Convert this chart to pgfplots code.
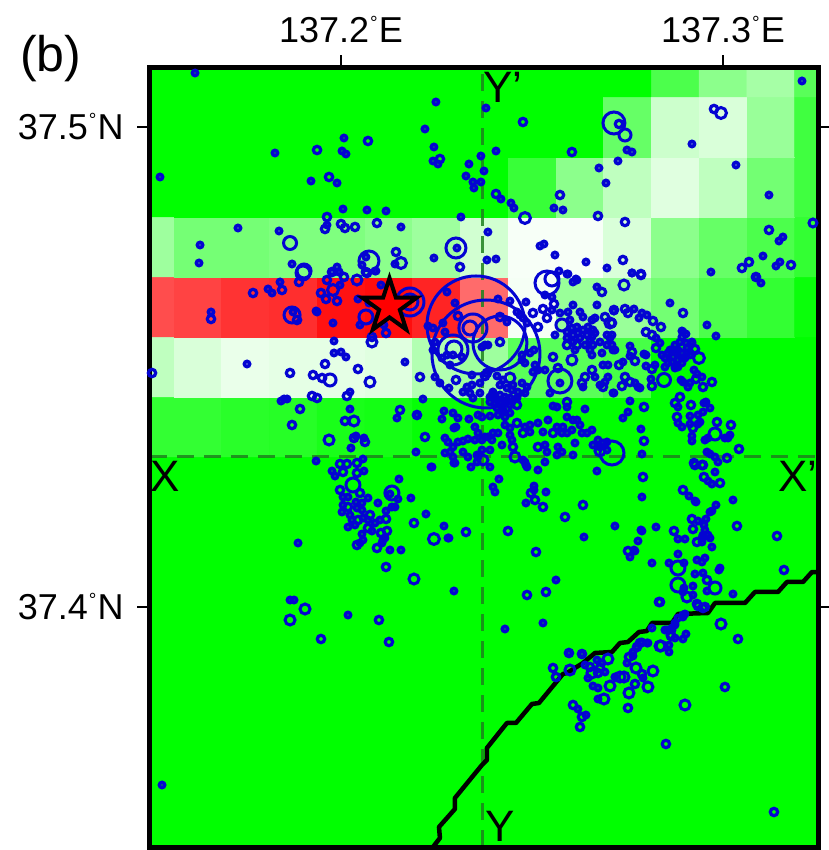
\documentclass[border=0pt]{standalone}
\usepackage{fontspec}
\setmainfont{Liberation Sans}
\usepackage{pgfplots}
\usepackage{pgfplotstable}
\pgfplotsset{compat=1.18}
\definecolor{evblue}{RGB}{4,4,210}
\definecolor{dashgreen}{RGB}{30,130,30}
\newcommand\dg{\kern1pt\raisebox{13pt}{\fontsize{19}{19}\selectfont\char"00B0}\kern1pt}
\pgfdeclareplotmark{gmtstar}{%
  \pgfpathmoveto{\pgfqpointpolar{90}{\pgfplotmarksize}}%
  \pgfpathlineto{\pgfqpointpolar{126}{0.382\pgfplotmarksize}}%
  \pgfpathlineto{\pgfqpointpolar{162}{\pgfplotmarksize}}%
  \pgfpathlineto{\pgfqpointpolar{198}{0.382\pgfplotmarksize}}%
  \pgfpathlineto{\pgfqpointpolar{234}{\pgfplotmarksize}}%
  \pgfpathlineto{\pgfqpointpolar{270}{0.382\pgfplotmarksize}}%
  \pgfpathlineto{\pgfqpointpolar{306}{\pgfplotmarksize}}%
  \pgfpathlineto{\pgfqpointpolar{342}{0.382\pgfplotmarksize}}%
  \pgfpathlineto{\pgfqpointpolar{18}{\pgfplotmarksize}}%
  \pgfpathlineto{\pgfqpointpolar{54}{0.382\pgfplotmarksize}}%
  \pgfpathclose
  \pgfusepathqfillstroke
}
% heat grid: v=0 green, v=1 white, v=2 red
\pgfplotstableread[row sep=crcr]{
lon lat v\\
137.1500 37.4375 .20\\ 137.1625 37.4375 .20\\ 137.1750 37.4375 .16\\ 137.1875 37.4375 .15\\ 137.2000 37.4375 .10\\ 137.2125 37.4375 .08\\ 137.2250 37.4375 .02\\ 137.2375 37.4375 0\\ 137.2500 37.4375 0\\ 137.2625 37.4375 0\\ 137.2750 37.4375 0\\ 137.2875 37.4375 0\\ 137.3000 37.4375 0\\ 137.3125 37.4375 0\\ 137.3250 37.4375 0\\
137.1500 37.4500 .75\\ 137.1625 37.4500 .85\\ 137.1750 37.4500 .92\\ 137.1875 37.4500 .90\\ 137.2000 37.4500 .90\\ 137.2125 37.4500 .88\\ 137.2250 37.4500 .70\\ 137.2375 37.4500 .62\\ 137.2500 37.4500 .35\\ 137.2625 37.4500 .35\\ 137.2750 37.4500 .28\\ 137.2875 37.4500 0\\ 137.3000 37.4500 0\\ 137.3125 37.4500 0\\ 137.3250 37.4500 0\\
137.1500 37.4625 1.70\\ 137.1625 37.4625 1.74\\ 137.1750 37.4625 1.80\\ 137.1875 37.4625 1.82\\ 137.2000 37.4625 1.93\\ 137.2125 37.4625 1.95\\ 137.2250 37.4625 1.86\\ 137.2375 37.4625 1.58\\ 137.2500 37.4625 .96\\ 137.2625 37.4625 .60\\ 137.2750 37.4625 .60\\ 137.2875 37.4625 .45\\ 137.3000 37.4625 .30\\ 137.3125 37.4625 .20\\ 137.3250 37.4625 .04\\
137.1500 37.4750 .62\\ 137.1625 37.4750 .46\\ 137.1750 37.4750 .46\\ 137.1875 37.4750 .50\\ 137.2000 37.4750 .50\\ 137.2125 37.4750 .55\\ 137.2250 37.4750 .62\\ 137.2375 37.4750 .82\\ 137.2500 37.4750 .97\\ 137.2625 37.4750 .97\\ 137.2750 37.4750 .85\\ 137.2875 37.4750 .55\\ 137.3000 37.4750 .40\\ 137.3125 37.4750 .30\\ 137.3250 37.4750 .20\\
137.1500 37.4875 0\\ 137.1625 37.4875 0\\ 137.1750 37.4875 0\\ 137.1875 37.4875 0\\ 137.2000 37.4875 0\\ 137.2125 37.4875 0\\ 137.2250 37.4875 0\\ 137.2375 37.4875 0\\ 137.2500 37.4875 .22\\ 137.2625 37.4875 .55\\ 137.2750 37.4875 .75\\ 137.2875 37.4875 .88\\ 137.3000 37.4875 .75\\ 137.3125 37.4875 .45\\ 137.3250 37.4875 .25\\
137.1500 37.5000 0\\ 137.1625 37.5000 0\\ 137.1750 37.5000 0\\ 137.1875 37.5000 0\\ 137.2000 37.5000 0\\ 137.2125 37.5000 0\\ 137.2250 37.5000 0\\ 137.2375 37.5000 0\\ 137.2500 37.5000 0\\ 137.2625 37.5000 0\\ 137.2750 37.5000 .40\\ 137.2875 37.5000 .80\\ 137.3000 37.5000 .85\\ 137.3125 37.5000 .60\\ 137.3250 37.5000 .25\\
137.1500 37.5125 0\\ 137.1625 37.5125 0\\ 137.1750 37.5125 0\\ 137.1875 37.5125 0\\ 137.2000 37.5125 0\\ 137.2125 37.5125 0\\ 137.2250 37.5125 0\\ 137.2375 37.5125 0\\ 137.2500 37.5125 0\\ 137.2625 37.5125 0\\ 137.2750 37.5125 0\\ 137.2875 37.5125 .30\\ 137.3000 37.5125 .55\\ 137.3125 37.5125 .65\\ 137.3250 37.5125 .35\\
}\heat
% events, read as image position of the map (converted to degrees on plotting)
\pgfplotstableread[row sep=crcr]{
px py\\
195 73\\ 160 177\\ 275 153\\ 311 181\\ 337 183\\ 344 138\\ 342 151\\ 346 154\\ 343 209\\ 367 210\\ 386 211\\ 238 228\\ 279 231\\ 200 245\\ 199 263\\ 327 225\\ 401 227\\ 292 264\\ 366 257\\ 362 265\\ 395 264\\ 376 271\\ 337 267\\ 339 272\\
436 102\\ 486 108\\ 425 129\\ 434 147\\ 433 161\\ 438 164\\ 496 151\\ 481 156\\ 469 164\\ 484 171\\ 466 176\\ 473 182\\ 481 182\\ 474 188\\ 501 199\\ 511 203\\ 514 208\\ 461 217\\ 488 232\\ 554 208\\ 563 210\\ 627 150\\ 632 152\\ 618 161\\ 599 168\\ 606 183\\ 692 144\\ 736 165\\ 802 81\\ 769 195\\ 783 237\\ 779 241\\ 763 256\\ 780 262\\ 776 266\\ 711 272\\ 756 277\\ 540 246\\ 544 244\\ 555 255\\ 586 262\\ 607 268\\ 632 273\\ 559 271\\ 568 274\\ 576 279\\ 487 260\\ 496 259\\ 434 258\\ 457 248\\
268 289\\ 272 293\\ 280 282\\ 211 312\\ 293 312\\ 316 311\\ 317 312\\ 340 285\\ 332 272\\ 339 272\\ 375 271\\ 381 285\\ 358 299\\ 369 303\\ 360 325\\ 333 323\\ 384 325\\ 334 341\\ 334 353\\ 341 352\\ 346 357\\ 405 362\\ 247 364\\ 350 392\\ 287 399\\ 284 399\\ 281 401\\ 350 409\\ 356 436\\ 364 438\\ 351 448\\ 397 418\\ 416 452\\ 316 461\\
363 459\\ 332 471\\ 335 476\\ 364 471\\ 343 497\\ 348 497\\ 368 498\\ 343 505\\ 356 502\\ 362 503\\ 357 508\\ 362 510\\ 342 512\\ 350 515\\ 352 520\\ 355 525\\ 348 527\\ 363 518\\ 368 520\\ 378 503\\ 386 511\\ 395 507\\ 392 507\\ 399 479\\ 390 494\\ 398 499\\ 411 498\\ 380 520\\ 375 523\\ 372 531\\ 362 534\\ 363 540\\ 360 543\\ 383 540\\ 385 538\\ 382 543\\ 390 550\\ 401 550\\ 426 514\\ 444 526\\ 448 538\\ 449 538\\ 454 591\\ 298 543\\ 290 600\\ 294 600\\ 348 615\\
431 467\\ 454 463\\ 471 467\\ 499 479\\ 493 487\\ 495 492\\ 538 470\\ 526 465\\ 523 460\\ 534 486\\ 534 490\\ 546 492\\ 526 503\\ 556 580\\ 505 629\\ 543 623\\
597 471\\ 642 497\\ 615 526\\ 584 537\\ 641 530\\ 642 531\\ 656 527\\ 638 541\\ 634 550\\ 635 551\\ 630 557\\ 652 563\\ 678 539\\ 685 539\\ 678 554\\ 669 563\\ 684 563\\ 715 472\\ 708 481\\ 712 484\\ 689 496\\ 695 501\\ 696 502\\ 716 505\\ 710 512\\ 712 511\\ 733 500\\ 698 521\\ 706 519\\ 704 525\\ 705 530\\ 703 535\\ 708 535\\ 702 538\\ 710 538\\ 702 542\\ 712 547\\ 697 560\\ 705 558\\ 702 562\\ 719 570\\ 720 568\\ 695 574\\ 703 573\\ 707 591\\ 733 594\\ 684 588\\ 693 586\\ 693 595\\ 683 592\\ 683 615\\ 685 614\\ 678 618\\ 675 625\\ 652 628\\ 665 630\\ 672 628\\ 686 634\\ 683 639\\ 675 638\\ 669 652\\ 569 653\\ 582 654\\ 647 643\\ 637 647\\ 633 652\\
585 665\\ 597 660\\ 602 663\\ 588 678\\ 605 672\\ 593 686\\ 598 688\\ 598 699\\ 578 709\\ 586 715\\ 615 677\\ 643 678\\ 627 663\\ 633 656\\ 642 642\\ 648 643\\ 669 645\\ 667 630\\ 672 630\\ 675 623\\ 683 617\\ 162 785\\
447 292\\ 455 303\\ 428 326\\ 433 328\\ 443 323\\ 445 332\\ 435 342\\ 433 350\\ 447 355\\ 453 355\\ 462 357\\ 442 358\\ 450 365\\ 435 377\\ 440 383\\ 449 388\\ 423 399\\ 417 415\\ 444 411\\ 453 413\\ 442 419\\ 458 418\\ 454 428\\ 456 427\\ 469 419\\ 475 427\\ 445 438\\ 448 442\\ 458 442\\ 463 441\\ 468 439\\ 453 447\\ 445 453\\ 450 452\\ 453 457\\ 455 463\\ 432 467\\ 477 455\\ 482 450\\
472 385\\ 467 387\\ 463 392\\ 470 393\\ 473 398\\ 480 393\\ 480 383\\ 472 375\\ 497 376\\ 503 380\\ 513 385\\ 522 383\\ 527 387\\ 525 393\\ 518 392\\ 512 390\\ 507 388\\ 500 385\\ 493 392\\ 490 397\\ 495 398\\ 500 395\\ 505 397\\ 510 398\\ 517 398\\ 490 402\\ 495 403\\ 500 402\\ 505 403\\ 510 405\\ 497 408\\ 503 410\\ 510 413\\ 498 415\\ 505 417\\ 482 417\\ 478 415\\ 490 416\\ 492 395\\ 497 400\\ 507 400\\ 502 407\\ 512 402\\
505 425\\ 510 428\\ 525 427\\ 530 425\\ 538 423\\ 530 432\\ 510 435\\ 512 440\\ 502 445\\ 498 433\\ 493 433\\ 488 437\\ 492 440\\ 485 437\\ 478 433\\ 482 440\\ 475 440\\ 490 450\\ 463 452\\ 468 457\\ 478 457\\ 477 462\\ 490 467\\ 525 462\\ 527 467\\ 545 462\\
548 420\\ 543 432\\ 545 445\\ 547 452\\ 558 447\\ 557 427\\ 563 427\\ 567 417\\ 567 407\\ 553 406\\ 557 407\\ 550 393\\ 585 409\\ 573 420\\ 562 433\\ 567 433\\ 572 430\\ 577 420\\ 580 425\\ 582 433\\ 587 433\\ 592 430\\ 598 440\\ 600 447\\ 603 443\\ 607 450\\ 593 445\\ 573 455\\ 562 452\\ 557 455\\ 575 443\\ 607 442\\
534 350\\ 530 353\\ 522 355\\ 522 360\\ 525 363\\ 535 365\\ 533 372\\ 545 370\\ 538 370\\ 560 383\\ 595 377\\ 603 365\\ 608 365\\ 605 382\\ 613 393\\ 583 387\\ 600 385\\ 608 377\\
597 287\\ 573 282\\ 577 280\\ 567 274\\ 545 295\\ 552 297\\ 552 310\\ 526 302\\ 510 301\\ 498 299\\ 517 312\\ 520 315\\ 523 318\\ 527 323\\ 507 322\\ 485 345\\ 482 347\\ 488 345\\ 555 335\\ 560 313\\ 568 312\\ 573 305\\ 580 312\\ 570 320\\ 583 317\\ 592 320\\ 595 318\\ 597 305\\
567 332\\ 572 328\\ 577 327\\ 567 338\\ 573 335\\ 578 333\\ 573 342\\ 580 338\\ 583 330\\ 588 327\\ 593 330\\ 587 335\\ 592 337\\ 595 333\\ 590 350\\ 593 345\\ 592 355\\ 600 342\\ 607 335\\ 610 338\\ 607 345\\ 613 350\\ 602 353\\ 590 340\\ 585 345\\ 575 350\\
632 273\\ 761 283\\ 670 303\\ 707 325\\ 716 336\\ 614 311\\ 634 309\\ 642 313\\ 639 318\\ 647 315\\ 656 338\\ 660 343\\ 630 346\\ 630 356\\ 615 350\\ 612 335\\ 612 345\\ 644 354\\ 646 355\\ 646 366\\ 655 365\\ 623 362\\ 635 383\\ 638 387\\ 640 388\\ 614 393\\ 651 379\\ 630 401\\ 628 412\\ 623 418\\ 641 429\\ 642 454\\
665 358\\ 670 350\\ 675 345\\ 680 342\\ 687 348\\ 692 343\\ 682 353\\ 673 357\\ 678 360\\ 685 358\\ 690 355\\ 668 363\\ 665 367\\ 678 367\\ 682 363\\ 687 353\\ 672 362\\ 662 355\\ 677 352\\ 675 368\\ 682 358\\ 678 350\\ 672 350\\ 668 353\\ 686 343\\ 682 331\\ 683 332\\ 686 334\\ 682 337\\ 692 342\\
694 370\\ 697 374\\ 702 377\\ 683 382\\ 681 380\\ 688 387\\ 690 383\\ 678 407\\ 704 403\\ 706 402\\ 710 408\\ 678 423\\ 682 427\\ 690 416\\ 690 424\\ 698 424\\ 700 422\\ 698 415\\ 703 412\\ 692 436\\ 692 441\\ 705 440\\ 708 438\\ 725 438\\ 730 435\\ 728 438\\ 707 452\\ 710 454\\ 715 457\\ 718 462\\
}\evS
\pgfplotstableread[row sep=crcr]{
px py\\
317 150\\ 368 141\\ 329 177\\ 327 217\\ 325 229\\ 341 224\\ 345 228\\ 355 227\\ 377 223\\ 396 252\\ 366 272\\ 332 272\\
523 122\\ 440 159\\ 496 194\\ 572 152\\ 560 195\\ 598 216\\ 625 222\\ 619 124\\ 714 109\\ 769 230\\ 749 262\\ 742 268\\ 791 265\\ 623 260\\ 641 274\\ 460 267\\
253 293\\ 282 290\\ 299 282\\ 211 319\\ 297 320\\ 321 293\\ 327 280\\ 326 299\\ 337 301\\ 344 277\\ 367 273\\ 386 333\\ 372 337\\ 325 364\\ 358 369\\ 152 373\\ 290 373\\ 313 375\\ 322 378\\ 420 377\\ 347 396\\ 312 396\\ 317 398\\ 300 409\\ 292 425\\ 345 421\\ 354 438\\ 365 442\\ 400 410\\ 417 415\\
340 464\\ 347 464\\ 357 463\\ 343 472\\ 357 473\\ 340 490\\ 360 493\\ 348 507\\ 358 520\\ 370 515\\ 386 519\\ 368 528\\ 381 533\\ 387 531\\ 357 545\\ 377 548\\ 414 523\\ 466 532\\ 386 567\\ 379 620\\ 321 639\\ 389 642\\ 508 531\\ 536 552\\ 531 493\\ 535 500\\ 543 507\\ 546 592\\ 527 595\\
643 477\\ 583 505\\ 565 517\\ 628 551\\ 674 531\\ 694 463\\ 702 465\\ 704 477\\ 720 483\\ 683 490\\ 692 519\\ 693 529\\ 697 542\\ 737 526\\ 777 536\\ 707 580\\ 784 570\\ 660 602\\ 697 604\\ 703 608\\ 671 636\\ 640 643\\ 738 639\\
569 653\\ 582 654\\ 553 668\\ 556 677\\ 590 667\\ 600 668\\ 598 673\\ 635 684\\ 573 705\\ 582 717\\ 580 727\\ 628 708\\ 666 744\\ 725 687\\ 774 812\\ 642 674\\ 629 657\\ 637 647\\ 671 635\\ 698 606\\ 705 607\\ 659 602\\
458 316\\ 456 380\\ 425 437\\ 485 376\\ 487 373\\ 517 405\\ 517 423\\ 523 433\\ 513 447\\ 553 433\\ 538 447\\ 567 402\\ 553 357\\ 558 368\\ 582 383\\ 585 377\\ 592 370\\ 603 387\\
602 292\\ 554 304\\ 543 309\\ 547 318\\ 533 313\\ 538 327\\ 500 317\\ 500 342\\ 605 317\\ 614 310\\ 567 345\\ 577 345\\
641 275\\ 756 277\\ 683 313\\ 625 309\\ 628 313\\ 653 321\\ 661 327\\ 612 323\\ 646 332\\ 652 335\\ 656 348\\ 632 352\\ 635 361\\ 652 369\\ 619 365\\ 625 377\\ 630 382\\ 622 386\\ 652 386\\ 644 407\\ 644 441\\ 695 349\\ 696 379\\ 712 382\\ 703 387\\ 680 397\\ 675 403\\ 691 405\\ 677 417\\ 693 428\\ 717 422\\ 731 425\\ 739 449\\ 727 458\\ 695 465\\ 703 465\\
}\evM
\pgfplotstableread[row sep=crcr]{
px py r\\
290 243 6.5\\ 304 271 7\\ 369 261 10\\ 401 263 5.5\\ 525 218 5.5\\ 614 123 11\\ 625 135 6\\ 721 113 5.5\\ 456 248 10\\ 813 223 4\\ 547 283 12\\ 552 279 7\\
303 273 7\\ 292 315 8\\ 333 290 5.5\\ 357 280 5\\ 366 317 7\\ 372 342 5\\ 330 380 6\\ 370 382 5\\ 354 421 5\\ 329 440 5\\ 353 485 7\\ 392 493 7\\ 434 539 5.5\\ 414 579 5\\ 305 609 5\\ 290 620 5\\
678 568 7\\ 715 588 6\\ 678 585 7\\ 687 597 5\\ 721 624 5\\ 660 646 5\\ 608 659 5\\ 570 670 5\\ 592 673 5\\ 610 686 5\\ 604 699 5\\ 620 677 5\\ 624 677 5\\ 629 693 5\\ 648 687 5\\ 685 705 5\\ 636 668 5\\ 653 671 5\\ 661 646 5\\
510 378 5\\ 515 457 5\\ 483 460 5\\ 572 360 5\\ 562 325 6\\ 610 323 5\\ 699 358 5.5\\ 664 380 6.5\\ 624 285 5\\ 715 434 6\\ 600 451 5\\
410 302 14\\ 410 302 8\\ 476 325 49\\ 486 354 54\\ 500 343 27\\ 473 328 14\\ 470 328 7\\ 453 350 15\\ 454 349 8\\ 560 381 12\\ 612 453 12\\
}\evL
\begin{document}
\begin{tikzpicture}[x=1pt,y=1pt]
\path[use as bounding box] (-150,-3) rectangle (678,847);
\begin{axis}[
  anchor=south west, at={(0,0)},
  scale only axis, width=668pt, height=779pt,
  xmin=137.15, xmax=137.32487, ymin=37.35, ymax=37.51229,
  axis background/.style={fill={rgb,255:red,0;green,255;blue,0}},
  axis line style={line width=5pt, line cap=rect},
  axis on top,
  tick align=outside, major tick length=13pt,
  tick style={line width=2pt, black},
  xtick={137.2,137.3}, ytick={37.4,37.5},
  xticklabel pos=upper, yticklabel pos=left,
  xticklabels={137.2\dg E,137.3\dg E},
  yticklabels={37.4\dg N,37.5\dg N},
  tick label style={font=\fontsize{36}{36}\selectfont},
  xticklabel style={yshift=9pt},
  yticklabel style={xshift=-10pt},
  colormap={gwr}{rgb255(0cm)=(0,255,0); rgb255(1cm)=(255,255,255); rgb255(2cm)=(255,0,0)},
  point meta min=0, point meta max=2,
]
\addplot[matrix plot*, mesh/cols=15, mesh/rows=7, point meta=\thisrow{v}] table[x=lon,y=lat] {\heat};

\addplot[only marks, mark=o, mark size=2.6, mark options={line width=3.6pt, draw=evblue}]
  table[x expr=137.2+(\thisrow{px}-341)/3820, y expr=37.4-(\thisrow{py}-607)/4800] {\evS};
\addplot[only marks, mark=o, mark size=3.7, mark options={line width=3.2pt, draw=evblue}]
  table[x expr=137.2+(\thisrow{px}-341)/3820, y expr=37.4-(\thisrow{py}-607)/4800] {\evM};
\addplot[scatter, only marks, mark=o, mark options={line width=3pt, draw=evblue},
  visualization depends on={\thisrow{r} \as \myr},
  scatter/@pre marker code/.code={\pgfplotsset{mark size=\myr}\pgfinterruptboundingbox\endpgfinterruptboundingbox},
  scatter/@post marker code/.code={}]
  table[x expr=137.2+(\thisrow{px}-341)/3820, y expr=37.4-(\thisrow{py}-607)/4800] {\evL};

% profile lines
\addplot[dashgreen, line width=3pt, dash pattern=on 17pt off 10pt, opacity=.85] coordinates {(137.15,37.43125) (137.32487,37.43125)};
\addplot[dashgreen, line width=3pt, dash pattern=on 17pt off 10pt, opacity=.85] coordinates {(137.23717,37.35) (137.23717,37.51229)};

% coastline
\addplot[black, line width=4.5pt, line join=round] table[x expr=137.2+(\thisrow{px}-341)/3820, y expr=37.4-(\thisrow{py}-607)/4800, row sep=crcr] {
px py\\
433 847\\ 440 838\\ 439 827\\ 455 809\\ 455 798\\ 482 765\\ 487 760\\ 487 748\\ 507 723\\ 516 723\\ 532 704\\ 539 703\\ 563 674\\ 567 673\\ 583 663\\ 595 653\\ 612 652\\ 620 643\\ 628 642\\ 639 632\\ 647 631\\ 652 623\\ 672 623\\ 678 614\\ 708 613\\ 715 603\\ 745 603\\ 755 592\\ 778 592\\ 787 582\\ 803 582\\ 812 572\\ 818 572\\
};

% epicentre
\addplot[only marks, mark=gmtstar, mark size=28.5, mark options={fill=red, draw=black, line width=4pt, miter limit=10}]
  coordinates {(137.2127,37.4626)};

\node[anchor=base west, inner sep=0pt, font=\fontsize{44}{44}\selectfont] at (axis cs:137.15,37.42396) {X};
\node[anchor=base west, inner sep=0pt, font=\fontsize{44}{44}\selectfont] at (axis cs:137.3144,37.42396) {X'};
\node[anchor=base west, inner sep=0pt, font=\fontsize{44}{44}\selectfont] at (axis cs:137.23717,37.5052) {Y'};
\node[anchor=base west, inner sep=0pt, font=\fontsize{44}{44}\selectfont] at (axis cs:137.2377,37.3512) {Y};
\end{axis}
\node[anchor=base west, inner sep=0pt, font=\fontsize{50}{50}\selectfont] at (-130,775) {(b)};
\end{tikzpicture}
\end{document}
